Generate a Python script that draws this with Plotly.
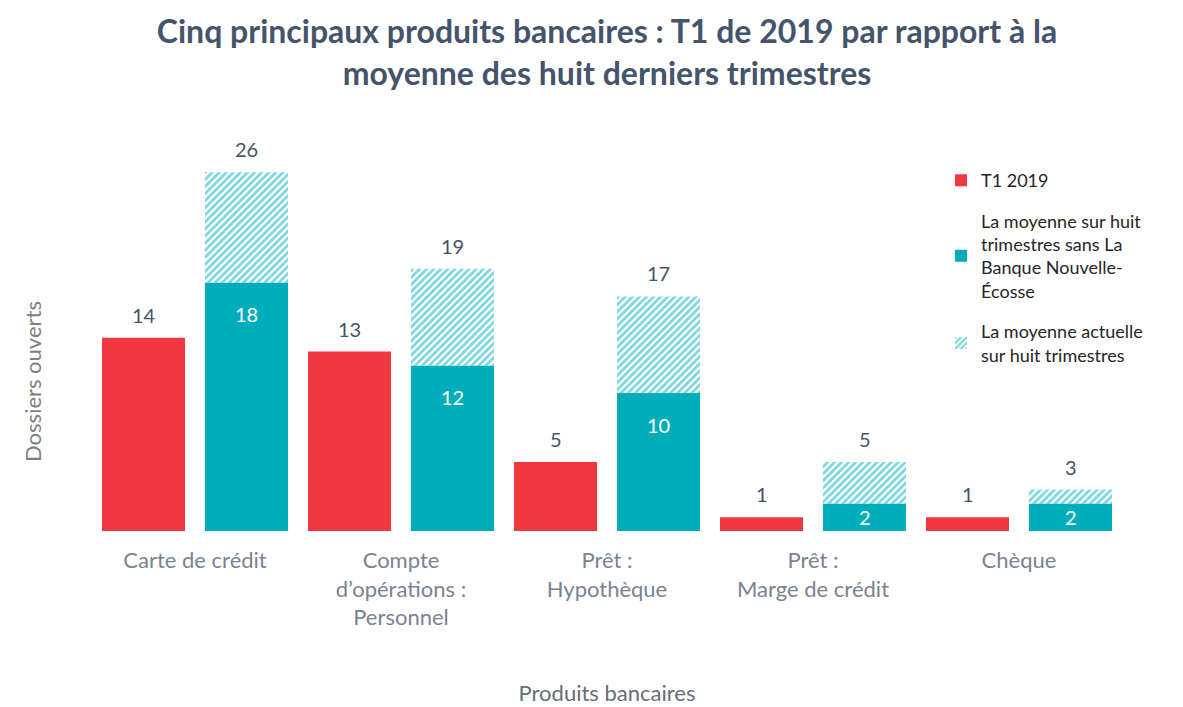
import plotly.graph_objects as go

# ---- data ----
categories = [
    "Carte de crédit",
    "Compte<br>d’opérations :<br>Personnel",
    "Prêt :<br>Hypothèque",
    "Prêt :<br>Marge de crédit",
    "Chèque",
]
t1_2019 = [14, 13, 5, 1, 1]
avg_without_bns = [18, 12, 10, 2, 2]
avg_current = [26, 19, 17, 5, 3]

series_names = [
    "T1 2019",
    "La moyenne sur huit<br>trimestres sans La<br>Banque Nouvelle-<br>Écosse",
    "La moyenne actuelle<br>sur huit trimestres",
]

RED = "#EF3840"
TEAL = "#00ADBB"
LABEL = "#44546A"
FONT = "Lato"

hatch_part = [c - b for c, b in zip(avg_current, avg_without_bns)]

fig = go.Figure()
fig.add_trace(go.Bar(
    x=categories, y=t1_2019, name=series_names[0], offsetgroup="t1",
    marker=dict(color=RED, line=dict(width=0)), legendgroup="a",
))
fig.add_trace(go.Bar(
    x=categories, y=avg_without_bns, name=series_names[1], offsetgroup="avg",
    marker=dict(color=TEAL, line=dict(width=0)), legendgroup="b",
))
fig.add_trace(go.Bar(
    x=categories, y=hatch_part, base=avg_without_bns, name=series_names[2],
    offsetgroup="avg", legendgroup="c",
    marker=dict(color="white", line=dict(width=0),
                pattern=dict(shape="/", fgcolor=TEAL, bgcolor="white",
                             size=5, solidity=0.55)),
))

annotations = []
for i in range(len(categories)):
    annotations.append(dict(x=i - 0.25, y=t1_2019[i], xref="x", yref="y",
                            text=str(t1_2019[i]), showarrow=False,
                            yanchor="middle", yshift=23,
                            font=dict(family=FONT, size=20, color=LABEL)))
    annotations.append(dict(x=i + 0.25, y=avg_current[i], xref="x", yref="y",
                            text=str(avg_current[i]), showarrow=False,
                            yanchor="middle", yshift=23,
                            font=dict(family=FONT, size=20, color=LABEL)))
    v = avg_without_bns[i]
    annotations.append(dict(x=i + 0.25, y=max(v - 2.3, v / 2), xref="x", yref="y",
                            text=str(v), showarrow=False, yanchor="middle",
                            font=dict(family=FONT, size=20, color="white")))

annotations.append(dict(x=-0.0583, y=0.374, xref="paper", yref="paper",
                        xanchor="center", yanchor="middle",
                        text="Dossiers ouverts", textangle=-90, showarrow=False,
                        font=dict(family=FONT, size=22, color="#7F7F7F")))

fig.update_layout(
    width=1175, height=699,
    margin=dict(l=84, r=61, t=122, b=176),
    paper_bgcolor="white", plot_bgcolor="white",
    barmode="group", bargap=0, bargroupgap=0.194,
    title=dict(
        text="Cinq principaux produits bancaires : T1 de 2019 par rapport à la<br>moyenne des huit derniers trimestres",
        x=0.5, xref="paper", xanchor="center", y=0.95, yanchor="middle",
        font=dict(family=FONT, size=32, color=LABEL, weight="bold"),
    ),
    xaxis=dict(
        showline=False, showgrid=False, zeroline=False, ticks="",
        tickfont=dict(family=FONT, size=22, color="#7A8391"),
        ticklabelstandoff=14,
        title=dict(text="Produits bancaires", standoff=56,
                   font=dict(family=FONT, size=22, color="#666E7A")),
        automargin=False,
    ),
    yaxis=dict(visible=False, range=[0, 29.06]),
    legend=dict(
        x=0.8243, y=0.92, xanchor="left", yanchor="top",
        font=dict(family=FONT, size=18, color="#262626"),
        bgcolor="rgba(0,0,0,0)", tracegroupgap=14, traceorder="grouped",
    ),
    annotations=annotations,
    showlegend=True,
)

fig.write_html("out.html")
